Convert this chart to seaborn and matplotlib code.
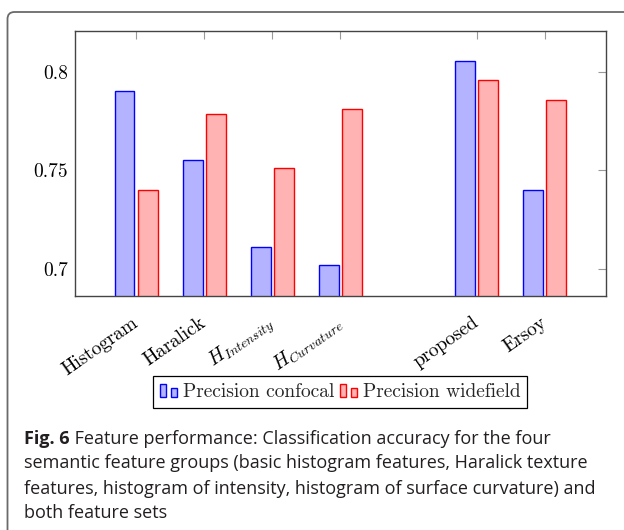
import matplotlib
matplotlib.use("Agg")
import matplotlib.pyplot as plt
import seaborn as sns
import pandas as pd
from matplotlib.patches import Rectangle, FancyBboxPatch
from matplotlib.legend_handler import HandlerBase

# ---------------- data ----------------
feature_sets = ["Histogram", "Haralick", "H_Intensity", "H_Curvature", "proposed", "Ersoy"]
tick_labels = ["Histogram", "Haralick", r"$H_{Intensity}$", r"$H_{Curvature}$", "proposed", "Ersoy"]
precision_confocal = [0.7905, 0.7553, 0.711, 0.7019, 0.8056, 0.740]
precision_widefield = [0.740, 0.7785, 0.7512, 0.7812, 0.7961, 0.786]
series_names = ["Precision confocal", "Precision widefield"]
y_ticks = [0.7, 0.75, 0.8]
y_tick_labels = ["0.7", "0.75", "0.8"]
caption_bold = "Fig. 6"
caption_lines = [
    " Feature performance: Classification accuracy for the four",
    "semantic feature groups (basic histogram features, Haralick texture",
    "features, histogram of intensity, histogram of surface curvature) and",
    "both feature sets",
]

# empty slot between the single groups and the full feature sets
order = feature_sets[:4] + [" "] + feature_sets[4:]

df = pd.DataFrame({
    "feature": feature_sets * 2,
    "value": precision_confocal + precision_widefield,
    "series": [series_names[0]] * len(feature_sets) + [series_names[1]] * len(feature_sets),
})

fill_colors = ["#b3b3ff", "#ffb3b3"]
edge_colors = ["#0000ff", "#ff0000"]

sns.set_style("white")
plt.rcParams["font.family"] = ["cmr10"]
plt.rcParams["mathtext.fontset"] = "cm"
plt.rcParams["axes.formatter.use_mathtext"] = True

W, H = 624, 530
fig = plt.figure(figsize=(W / 100, H / 100), dpi=100)
ax_l, ax_r, ax_t, ax_b = 74.9, 606.0, 31.0, 296.0
ax = fig.add_axes([ax_l / W, 1 - ax_b / H, (ax_r - ax_l) / W, (ax_b - ax_t) / H])

sns.barplot(data=df, x="feature", y="value", hue="series", order=order,
            hue_order=series_names, palette=fill_colors, saturation=1,
            width=0.68, gap=0.15, legend=False, ax=ax, errorbar=None)
for cont, ec in zip(ax.containers, edge_colors):
    for p in cont:
        p.set_edgecolor(ec)
        p.set_linewidth(1.0)

ax.set_xlim(-0.9, 6.9)
ax.set_ylim(0.6863, 0.8208)
positions = [order.index(f) for f in feature_sets]
ax.set_xticks(positions)
ax.set_xticklabels(tick_labels, rotation=35, ha="right", va="center",
                   rotation_mode="anchor", fontsize=14)
ax.set_yticks(y_ticks)
ax.set_yticklabels(y_tick_labels, fontsize=14)
ax.set_xlabel("")
ax.set_ylabel("")
ax.tick_params(axis="both", direction="in", length=5.8, width=0.8, color="#999999",
               top=True, right=True, labelcolor="black")
ax.tick_params(axis="x", pad=18)
ax.tick_params(axis="y", pad=5)
for s in ax.spines.values():
    s.set_color("#444444")
    s.set_linewidth(1.0)


class TwoBarHandler(HandlerBase):
    def create_artists(self, legend, orig_handle, xdescent, ydescent, width, height,
                       fontsize, trans):
        fc = orig_handle.get_facecolor()
        ec = orig_handle.get_edgecolor()
        bw = width * 0.35
        x0 = -xdescent
        y0 = -ydescent
        r1 = Rectangle((x0, y0), bw, height * 0.93, fc=fc, ec=ec, lw=1.0, transform=trans)
        r2 = Rectangle((x0 + width - bw, y0), bw, height * 0.64, fc=fc, ec=ec, lw=1.0,
                       transform=trans)
        return [r1, r2]


handles = [Rectangle((0, 0), 1, 1, fc=f, ec=e) for f, e in zip(fill_colors, edge_colors)]
leg = fig.legend(handles, series_names, loc="center",
                 bbox_to_anchor=((ax_l + ax_r) / 2 / W, 1 - 392 / H), ncol=2,
                 handler_map={Rectangle: TwoBarHandler()}, frameon=True, fancybox=False,
                 edgecolor="black", framealpha=1, handlelength=0.88, handletextpad=0.31,
                 columnspacing=0.26, borderpad=0.35, prop={"family": "cmr10", "size": 14})
leg.get_frame().set_linewidth(0.9)

# outer rounded frame
frame = FancyBboxPatch((7.5 / 100, -0.5), 8.0, (H - 12) / 100 + 0.5,
                       boxstyle="round,pad=0,rounding_size=0.07",
                       transform=fig.dpi_scale_trans, fill=False, ec="#6a6a6a", lw=1.3,
                       clip_on=False)
fig.add_artist(frame)

# caption
cap_font = ["Open Sans", "DejaVu Sans"]
cap_size = 13.0
cap_color = "#231f20"
base_y = [443.5, 468.5, 493.5, 518.5]
cap_x = 24
tb = fig.text(cap_x / W, 1 - base_y[0] / H, caption_bold, family=cap_font, size=cap_size,
              weight="bold", va="baseline", ha="left", color=cap_color)
fig.canvas.draw()
bb = tb.get_window_extent()
fig.text(bb.x1 / W, 1 - base_y[0] / H, caption_lines[0], family=cap_font, size=cap_size,
         va="baseline", ha="left", color=cap_color)
for line, y in zip(caption_lines[1:], base_y[1:]):
    fig.text(cap_x / W, 1 - y / H, line, family=cap_font, size=cap_size, va="baseline",
             ha="left", color=cap_color)

fig.savefig("out.png", dpi=100)
